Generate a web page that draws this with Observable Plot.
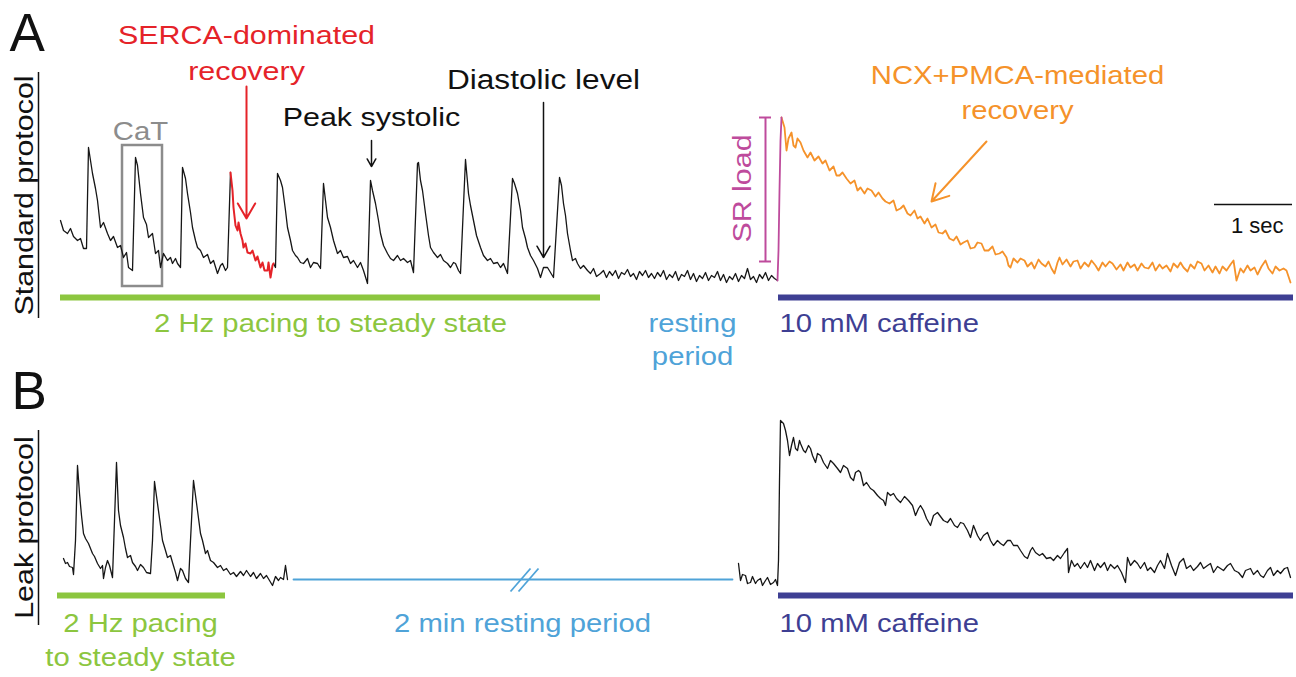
<!DOCTYPE html>
<html>
<head>
<meta charset="utf-8">
<script src="https://cdn.jsdelivr.net/npm/d3@7"></script>
<script src="https://cdn.jsdelivr.net/npm/@observablehq/plot@0.6"></script>
<style>
  body { margin: 0; background: #ffffff; }
  #fig svg { display: block; }
</style>
</head>
<body>
<div id="fig"></div>
<script>
// ---------- DATA (time in acquisition frames, fluorescence in a.u. above rest) ----------
// Panel A – standard protocol
const stdPacing1 = [[0,52],[3,42],[7,39],[10,44],[13,36],[17,32],[20,34],[23,24],[26,24],[28,125],[30,112],[32,99],[35,84],[37,72],[40,45],[43,50],[47,39],[50,32],[53,36],[57,25],[60,27],[63,15],[66,20],[68,5],[72,2],[75,115],[77,107],[80,79],[83,55],[86,48],[88,35],[92,39],[95,19],[98,22],[100,5],[103,19],[107,12],[110,15],[112,9],[115,14],[117,9],[120,5],[122,105],[125,94],[127,79],[130,60],[132,45],[135,32],[137,25],[140,22],[143,15],[147,18],[150,9],[153,12],[157,-1],[160,7],[162,9],[165,2],[167,5],[170,100]];
const stdSerca = [[170,100],[172,82],[173,65],[175,47],[177,42],[178,50],[180,39],[182,32],[183,25],[185,29],[187,20],[190,19],[192,22],[195,12],[197,16],[200,5],[202,10],[204,2],[207,2],[208,10],[210,-5],[212,7],[213,9]];
const stdPacing2 = [[213,9],[215,5],[217,99],[220,92],[222,85],[225,62],[227,45],[230,32],[232,22],[235,17],[237,15],[240,10],[243,9],[247,14],[250,5],[253,10],[257,9],[260,4],[263,89],[265,72],[267,55],[270,45],[273,32],[277,19],[280,22],[283,15],[287,16],[290,9],[293,12],[297,5],[300,10],[303,2],[307,-11],[310,92],[312,82],[315,69],[318,52],[320,39],[323,27],[327,19],[330,14],[333,12],[337,17],[340,12],[343,14],[347,10],[350,12],[353,0],[357,109],[358,110],[360,92],[362,82],[365,59],[368,37],[370,25],[373,20],[377,15],[380,18],[383,12],[387,9],[390,5],[393,10],[395,9],[398,2],[400,-1],[405,113],[408,79],[410,67],[413,52],[416,37],[420,25],[423,17],[427,12],[430,14],[433,9],[437,10],[440,5],[443,9],[447,-1],[452,94],[454,89],[457,79],[460,62],[462,45],[465,34],[467,25],[470,17],[473,12],[477,4],[480,-5],[483,5],[487,5],[490,0],[493,-5],[499,95],[501,87],[503,69],[505,57],[507,39],[510,22],[512,12],[515,14],[517,9],[520,4],[523,7],[527,2],
  [530,-1],[533,4],[536,-4],[540,-1],[543,2],[546,-5],[549,1],[552,-3],[555,2],[558,-6],[561,0],[564,-2],[567,3],[570,-4],[573,-1],[576,-7],[579,1],[582,-3],[585,2],[588,-5],[591,-1],[594,-6],[597,0],[600,-4],[603,2],[606,-7],[609,-2],[612,-5],[615,1],[618,-8],[621,-2],[624,-4],[627,2],[630,-7],[633,-1],[636,-9],[639,-3],[642,-6],[645,0],[648,-8],[651,-3],[654,-5],[657,1],[660,-8],[663,-2],[666,-10],[669,-4],[672,-7],[675,-1],[678,-9],[681,-3],[684,-6],[687,4],[690,-7],[693,-4],[696,-10],[699,-2],[702,-6],[705,0],[708,-8],[711,-3],[714,-6],[717,-8]];
const stdRelease = [[717,-8],[718,22],[719,82],[720,132],[721,155]];
const stdCaffeine = [[721,155],[724,145],[726,122],[728,134],[731,140],[733,127],[735,125],[737,134],[740,130],[743,122],[747,115],[750,120],[754,112],[758,116],[762,109],[765,112],[769,102],[773,106],[776,97],[779,97],[782,100],[786,94],[790,89],[794,92],[797,82],[800,85],[804,79],[807,84],[811,82],[815,76],[818,80],[822,74],[825,71],[829,69],[833,72],[836,62],[840,64],[843,67],[847,59],[850,57],[854,62],[857,54],[860,56],[864,49],[867,54],[871,45],[875,48],[878,40],[882,39],[885,42],[889,34],[893,32],[896,36],[900,28],[903,30],[907,32],[910,24],[914,25],[917,30],[921,29],[924,22],[928,22],[932,26],[935,18],[939,19],[942,21],[946,15],[948,7],[950,5],[953,14],[957,10],[960,14],[964,12],[967,6],[971,10],[974,4],[978,13],[981,9],[985,6],[988,11],[991,4],[994,-1],[997,10],[999,15],[1002,8],[1006,13],[1010,6],[1013,11],[1017,12],[1020,4],[1024,10],[1028,6],[1031,12],[1035,7],[1038,2],[1042,10],[1045,6],[1049,11],[1052,9],[1056,3],[1060,8],[1063,2],[1067,10],[1070,5],[1074,8],[1077,2],[1081,9],[1084,5],[1088,4],[1092,10],[1095,2],[1099,8],[1102,4],[1106,7],[1110,1],[1113,9],[1117,5],[1120,10],[1123,5],[1127,1],[1130,8],[1134,4],[1137,11],[1141,9],[1144,2],[1148,7],[1152,0],[1155,6],[1159,-1],[1162,6],[1166,2],[1170,8],[1173,12],[1176,-8],[1180,4],[1183,0],[1187,7],[1190,2],[1194,5],[1197,-2],[1201,6],[1205,12],[1208,4],[1212,-1],[1215,6],[1219,2],[1223,4],[1226,2],[1230,-10]];

// Panel B – leak protocol
const leakPacing = [[3,20],[5,15],[7,16],[9,12],[12,11],[13,4],[15,38],[17,113],[19,85],[21,63],[23,45],[25,40],[28,35],[30,30],[32,25],[34,22],[37,15],[40,10],[42,13],[43,0],[45,11],[47,18],[49,13],[52,1],[54,58],[56,116],[58,68],[60,53],[63,41],[65,30],[67,21],[70,23],[72,16],[75,12],[77,8],[80,14],[83,11],[86,6],[90,5],[92,38],[94,97],[97,75],[100,53],[102,38],[105,28],[107,21],[110,23],[112,16],[115,6],[117,-2],[120,10],[122,8],[125,0],[128,-4],[130,38],[133,98],[135,83],[137,68],[140,45],[142,38],[145,25],[147,28],[150,18],[153,16],[157,11],[160,13],[163,8],[166,10],[170,4],[173,6],[176,2],[180,7],[183,3],[186,8],[190,2],[193,6],[196,0],[200,5],[203,0],[206,3],[209,-2],[212,-7],[215,2],[218,-2],[220,1],[223,-1],[225,13],[227,-1]];
const leakCaffeine = [[678,15],[680,-2],[682,4],[685,3],[687,-5],[690,-4],[692,2],[695,-5],[697,-2],[700,0],[702,-7],[705,-2],[707,1],[710,-6],[713,-4],[715,-1],[717,-7],[718,18],[719,98],[720,158],[723,155],[725,148],[727,138],[729,123],[731,133],[733,141],[735,130],[737,128],[739,138],[740,135],[743,128],[745,126],[748,133],[750,130],[752,123],[755,116],[757,125],[760,123],[763,116],[767,110],[770,118],[773,115],[777,110],[780,106],[783,113],[787,110],[790,101],[793,98],[795,106],[798,108],[800,106],[803,93],[806,96],[810,90],[813,88],[817,83],[820,80],[823,78],[825,73],[827,86],[830,83],[833,85],[836,80],[840,76],[844,82],[848,78],[852,73],[855,63],[858,70],[860,73],[863,68],[866,60],[870,53],[873,63],[877,66],[880,62],[883,58],[887,56],[890,60],[894,53],[897,51],[900,56],[903,55],[907,48],[910,41],[913,53],[917,43],[920,38],[923,43],[927,46],[930,38],[933,33],[937,38],[940,35],[943,33],[947,38],[950,38],[953,33],[957,33],[960,28],[964,22],[967,20],[970,28],[972,31],[975,26],[979,23],[982,25],[986,20],[990,21],[993,18],[997,23],[1000,20],[1004,26],[1007,30],[1008,6],[1011,18],[1014,12],[1017,15],[1020,10],[1024,16],[1027,11],[1030,18],[1034,8],[1037,15],[1040,11],[1044,16],[1047,8],[1050,14],[1054,10],[1057,13],[1061,6],[1065,-4],[1067,21],[1070,13],[1074,18],[1077,15],[1080,10],[1084,16],[1087,8],[1090,11],[1094,6],[1097,13],[1100,18],[1104,10],[1107,25],[1111,13],[1115,3],[1119,16],[1123,20],[1126,10],[1130,13],[1133,8],[1137,12],[1140,16],[1143,10],[1147,13],[1150,15],[1153,6],[1157,12],[1160,10],[1163,8],[1167,13],[1170,15],[1174,8],[1178,6],[1182,1],[1185,8],[1190,10],[1193,4],[1197,8],[1200,3],[1203,1],[1207,8],[1210,11],[1213,3],[1217,8],[1220,5],[1224,10],[1227,11],[1230,1]];
const leakRest = [[233,-1],[672,-1]];

// Protocol phases (start/end frame)
const phasesA = [{phase:"pacing", start:0, end:540}, {phase:"caffeine", start:718, end:1233}];
const phasesB = [{phase:"pacing", start:-3, end:165}, {phase:"caffeine", start:718, end:1233}];

// Texts
const panelLetters = ["A", "B"];
const protocolNames = ["Standard protocol", "Leak protocol"];
const phaseTextsA = ["2 Hz pacing to steady state", "resting", "period", "10 mM caffeine"];
const phaseTextsB = ["2 Hz pacing", "to steady state", "2 min resting period", "10 mM caffeine"];
const noteTexts = ["SERCA-dominated", "recovery", "CaT", "Peak systolic", "Diastolic level", "NCX+PMCA-mediated", "recovery", "SR load", "1 sec"];

// ---------- STYLE ----------
const C = {
  trace: "#161616", red: "#e52329", orange: "#f5922a", magenta: "#be4b9c",
  green: "#8cc63f", sky: "#4fa3d8", navy: "#3e3f93", gray: "#8c8c8c"
};
const FONT = "'Liberation Sans', Arial, Helvetica, sans-serif";
const X_DOMAIN = [-60, 1236];

function panel(height, yDomain, marks) {
  return Plot.plot({
    width: 1296, height, margin: 0,
    x: {domain: X_DOMAIN, axis: null},
    y: {domain: yDomain, axis: null},
    style: {fontFamily: FONT, background: "transparent", overflow: "visible"},
    marks
  });
}
const T = (txt, x, y, o = {}) => Plot.text([txt], {x, y, fontSize: 25, fill: "#111", ...o});

// ---------- PANEL A ----------
const plotA = panel(370, [-98, 272], [
  // phase bars
  Plot.ruleY(phasesA, {x1: "start", x2: "end", y: -25, stroke: d => d.phase === "pacing" ? C.green : C.navy, strokeWidth: 6}),
  // CaT box
  Plot.rect([0], {x1: 62, x2: 102, y1: -14, y2: 127, fill: "none", stroke: C.gray, strokeWidth: 2.5}),
  // traces
  Plot.line(stdPacing1, {stroke: C.trace, strokeWidth: 1.3}),
  Plot.line(stdPacing2, {stroke: C.trace, strokeWidth: 1.3}),
  Plot.line(stdSerca, {stroke: C.red, strokeWidth: 2}),
  Plot.line(stdCaffeine, {stroke: C.orange, strokeWidth: 1.8}),
  Plot.line(stdRelease, {stroke: C.magenta, strokeWidth: 1.8}),
  // SR load bracket
  Plot.ruleX([705], {y1: 11, y2: 155, stroke: C.magenta, strokeWidth: 2}),
  Plot.ruleY([11, 155], {x1: 699, x2: 711, stroke: C.magenta, strokeWidth: 2}),
  T(noteTexts[7], 682, 84, {fill: C.magenta, rotate: -90, fontSize: 26}),
  // scale bar
  Plot.ruleY([68], {x1: 1154, x2: 1232, stroke: "#111", strokeWidth: 1.5}),
  T(noteTexts[8], 1223, 47, {textAnchor: "end", fontSize: 22}),
  // arrows
  Plot.arrow([0], {x1: 186, y1: 186, x2: 186, y2: 54, stroke: C.red, strokeWidth: 2, headLength: 13}),
  Plot.arrow([0], {x1: 311, y1: 132, x2: 311, y2: 106, stroke: "#111", strokeWidth: 1.5, headLength: 10}),
  Plot.arrow([0], {x1: 483, y1: 170, x2: 483, y2: 15, stroke: "#111", strokeWidth: 1.5, headLength: 13}),
  Plot.arrow([0], {x1: 926, y1: 131, x2: 871, y2: 71, stroke: C.orange, strokeWidth: 2, headLength: 14}),
  // annotation texts
  T(noteTexts[0], 186, 237, {fill: C.red, fontSize: 26}),
  T(noteTexts[1], 186, 201, {fill: C.red, fontSize: 26}),
  T(noteTexts[2], 80, 141, {fill: C.gray, fontSize: 25}),
  T(noteTexts[3], 311, 155, {fontSize: 26}),
  T(noteTexts[4], 483, 192, {fontSize: 27}),
  T(noteTexts[5], 957, 197, {fill: C.orange, fontSize: 25}),
  T(noteTexts[6], 957, 162, {fill: C.orange, fontSize: 25}),
  // phase labels
  T(phaseTextsA[0], 270, -51, {fill: C.green}),
  T(phaseTextsA[1], 632, -51, {fill: C.sky}),
  T(phaseTextsA[2], 632, -84, {fill: C.sky}),
  T(phaseTextsA[3], 719, -51, {fill: C.navy, textAnchor: "start"}),
  // panel letter & protocol name
  T(panelLetters[0], -51, 238, {fontSize: 53, textAnchor: "start"}),
  T(protocolNames[0], -36, 77, {rotate: -90, fontSize: 26}),
  Plot.ruleX([-22], {y1: -46, y2: 200, stroke: "#111", strokeWidth: 1.5})
]);

// ---------- PANEL B ----------
const plotB = panel(307, [-99, 208], [
  Plot.ruleY(phasesB, {x1: "start", x2: "end", y: -17, stroke: d => d.phase === "pacing" ? C.green : C.navy, strokeWidth: 6}),
  Plot.line(leakRest, {stroke: C.sky, strokeWidth: 1.8}),
  Plot.link([0, 1], {x1: d => 450 + d * 8, x2: d => 470 + d * 8, y1: -13, y2: 10, stroke: C.sky, strokeWidth: 1.8}),
  Plot.line(leakPacing, {stroke: C.trace, strokeWidth: 1.3}),
  Plot.line(leakCaffeine, {stroke: C.trace, strokeWidth: 1.3}),
  T(phaseTextsB[0], 80, -45, {fill: C.green}),
  T(phaseTextsB[1], 80, -79, {fill: C.green}),
  T(phaseTextsB[2], 462, -45, {fill: C.sky}),
  T(phaseTextsB[3], 719, -45, {fill: C.navy, textAnchor: "start"}),
  T(panelLetters[1], -49, 186, {fontSize: 53, textAnchor: "start"}),
  T(protocolNames[1], -36, 51, {rotate: -90, fontSize: 26}),
  Plot.ruleX([-22], {y1: -47, y2: 148, stroke: "#111", strokeWidth: 1.5})
]);

const fig = document.getElementById("fig");
fig.append(plotA, plotB);

// The original lettering is set wider than Arial: widen glyphs along the baseline
const noStretch = new Set(["A", "B", "1 sec"]);
fig.querySelectorAll("text").forEach(el => {
  if (noStretch.has(el.textContent)) return;
  const L = el.getComputedTextLength();
  if (L > 0) {
    el.setAttribute("textLength", (L * 1.17).toFixed(1));
    el.setAttribute("lengthAdjust", "spacingAndGlyphs");
  }
});
</script>
</body>
</html>
